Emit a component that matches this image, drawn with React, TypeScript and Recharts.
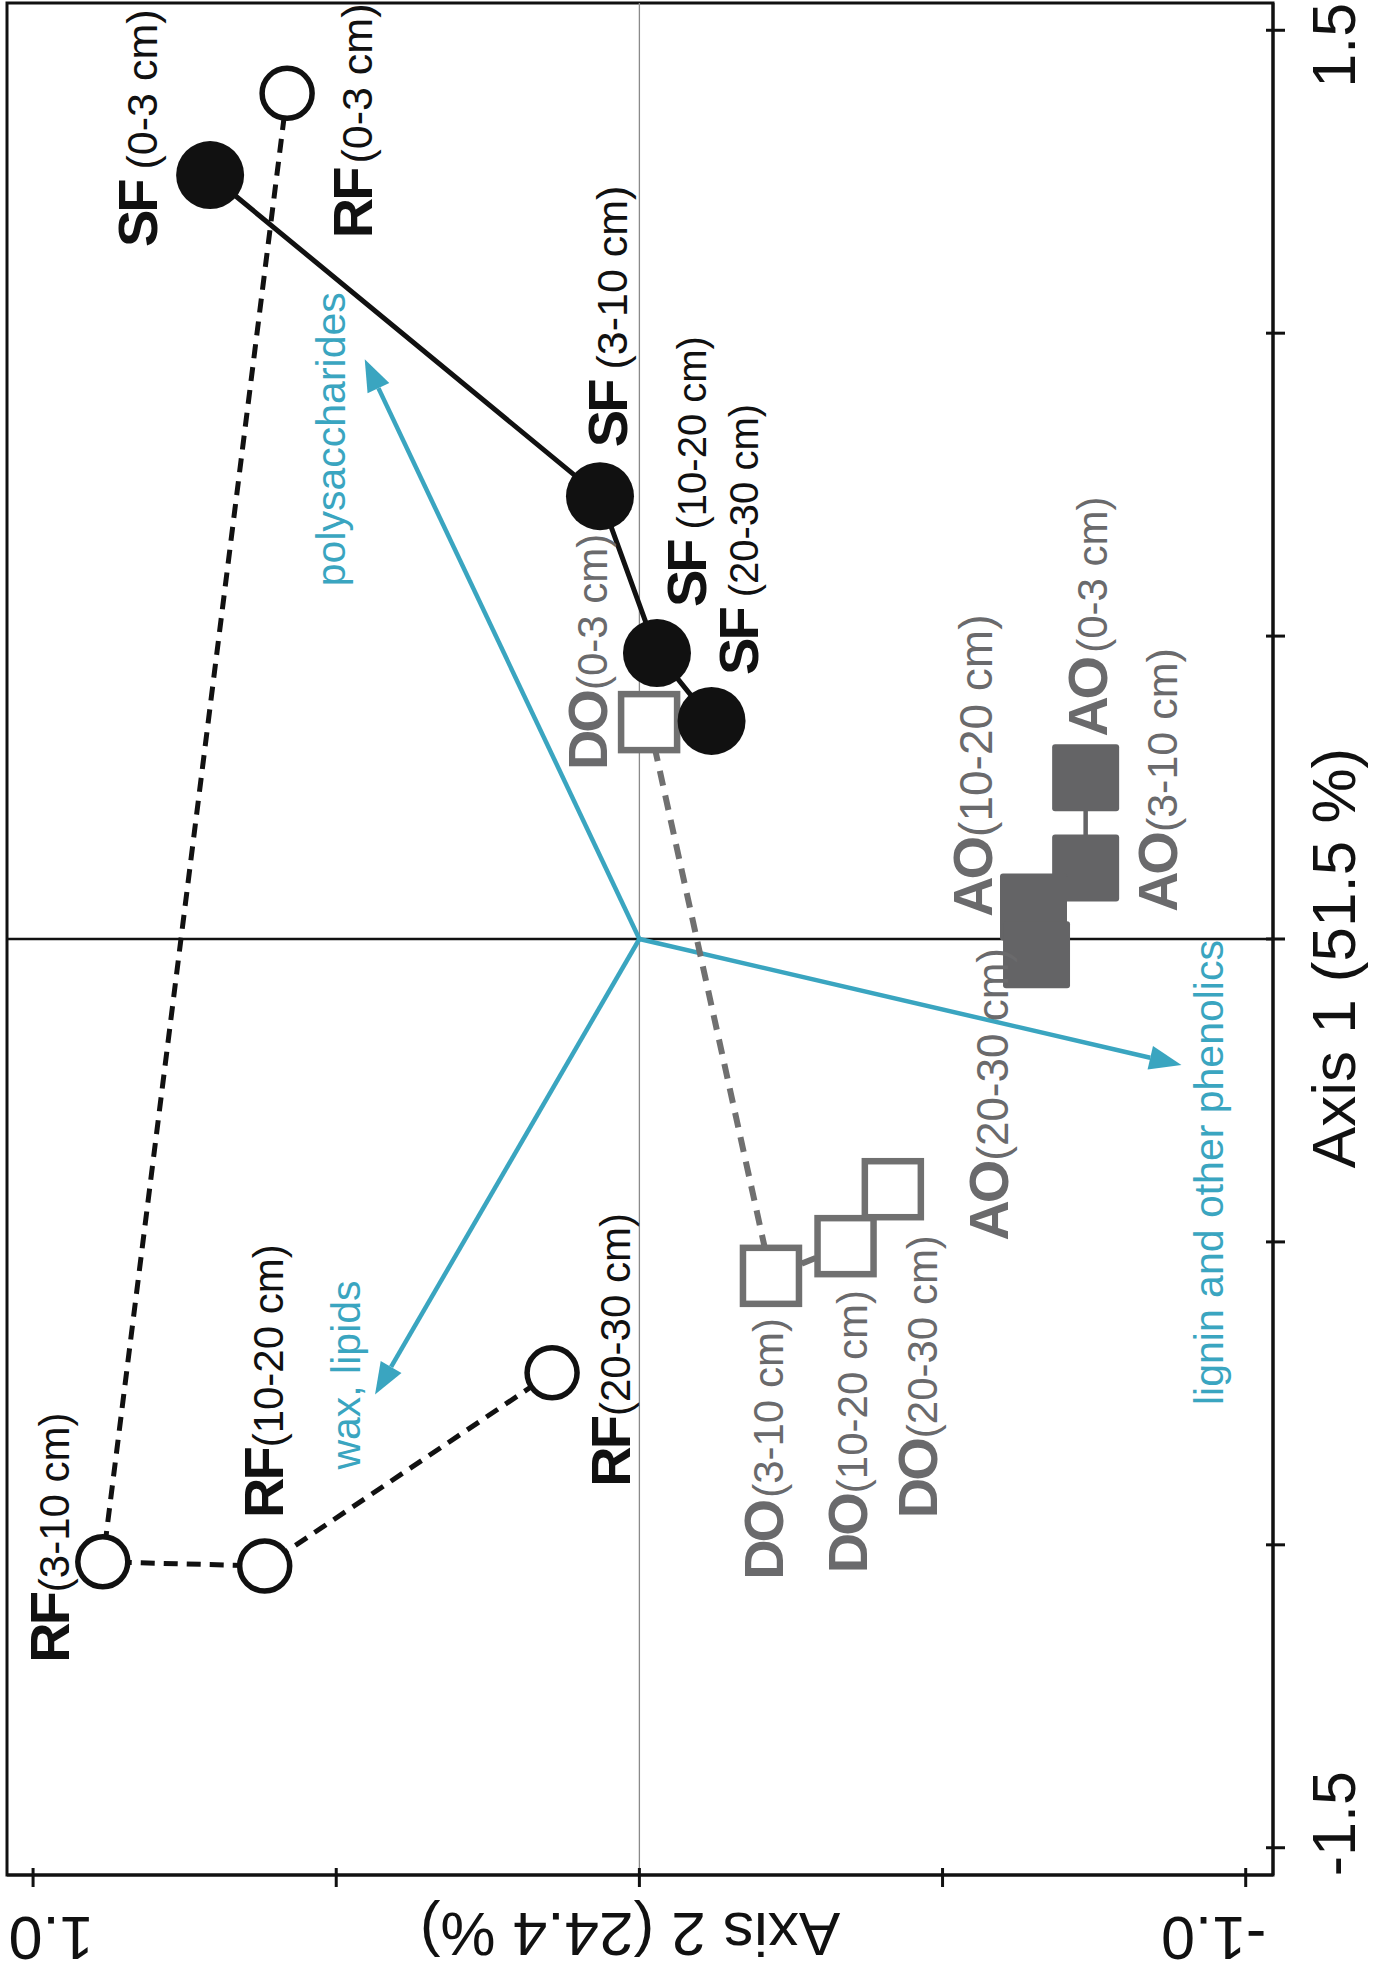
import React from 'react';
import {
  ScatterChart,
  Scatter,
  XAxis,
  YAxis,
  ReferenceLine,
  ReferenceArea,
  Label,
} from 'recharts';

// soil depths, same order for every site
const depths = ['0-3 cm', '3-10 cm', '10-20 cm', '20-30 cm'];

// ordination scores (Axis 1 vertical, Axis 2 horizontal)
const sfAxis1 = [1.261, 0.731, 0.472, 0.36];
const sfAxis2 = [0.708, 0.065, -0.029, -0.119];
const rfAxis1 = [1.396, -1.028, -1.035, -0.716];
const rfAxis2 = [0.581, 0.885, 0.618, 0.144];
const doAxis1 = [0.358, -0.556, -0.507, -0.413];
const doAxis2 = [-0.016, -0.217, -0.34, -0.418];
const aoAxis1 = [0.266, 0.117, 0.053, -0.026];
const aoAxis2 = [-0.736, -0.736, -0.65, -0.655];

// compound vectors
const vectorNames = ['polysaccharides', 'lignin and other phenolics', 'wax, lipids'];
const vectorAxis1 = [0.957, -0.208, -0.752];
const vectorAxis2 = [0.453, -0.894, 0.436];

const axis1Ticks = [-1.5, -1, -0.5, 0, 0.5, 1, 1.5];
const axis2Ticks = [-1, -0.5, 0, 0.5, 1];
const axis1Domain = [-1.545, 1.545];
const axis2Domain = [-1.045, 1.043];

const FONT = "'Liberation Sans', Arial, sans-serif";
const INK = '#111';
const GREY = '#6a6a6c';
const TEAL = '#3aa5c0';

// label placement relative to each marker: [dx, dy, gap, depth font size]
const labelOffsets: Record<string, number[][]> = {
  SF: [[-53, 72, 12, 43], [27, -49, 12, 43], [49, -46, 12, 40], [46, -46, 12, 40]],
  RF: [[85, 145, 6, 43], [-34, 101, 2, 42], [18, -48, 2, 42], [78, 114, 2, 42]],
  DO: [[-42, 48, 2, 42], [12, 304, 4, 42], [21, 327, 2, 42], [44, 329, 2, 42]],
  AO: [[21, -41, 6, 42], [91, 44, 2, 43], [-42, 10, 2, 46], [-29, 286, 2, 44]],
};
const vectorLabelOffsets = [[-20, 227], [42, 340], [-15, 75]];

const toPoints = (group: string, a1: number[], a2: number[]) =>
  a1.map((v, i) => ({ group, idx: i, depth: depths[i], a1: v, a2: a2[i] }));

const sfData = toPoints('SF', sfAxis1, sfAxis2);
const rfData = toPoints('RF', rfAxis1, rfAxis2);
const doData = toPoints('DO', doAxis1, doAxis2);
const aoData = toPoints('AO', aoAxis1, aoAxis2);
const allPoints = [...sfData, ...rfData, ...doData, ...aoData];

const SfDot = ({ cx, cy }: any) => <circle cx={cx} cy={cy} r={34} fill={INK} />;
const RfDot = ({ cx, cy }: any) => (
  <circle cx={cx} cy={cy} r={25} fill="#fff" stroke={INK} strokeWidth={5.5} />
);
const DoDot = ({ cx, cy }: any) => (
  <rect x={cx - 28} y={cy - 28} width={56} height={56} fill="#fff" stroke="#707070" strokeWidth={6.5} />
);
const AoDot = ({ cx, cy }: any) => (
  <rect x={cx - 33.5} y={cy - 33.5} width={67} height={67} rx={3} fill="#646466" />
);

const PointLabel = ({ cx, cy, payload }: any) => {
  if (cx == null || !payload) return <g />;
  const [dx, dy, gap, size] = labelOffsets[payload.group][payload.idx];
  const color = payload.group === 'SF' || payload.group === 'RF' ? INK : GREY;
  return (
    <text transform={`translate(${cx + dx},${cy + dy}) rotate(-90)`} fill={color} fontFamily={FONT}>
      <tspan fontSize={56} fontWeight="bold" letterSpacing={-3}>{payload.group}</tspan>
      <tspan fontSize={size} dx={gap}>({payload.depth})</tspan>
    </text>
  );
};

const Arrow = (props: any) => {
  const { x1, y1, x2, y2, idx } = props;
  if (x1 == null) return <g />;
  const ang = Math.atan2(y2 - y1, x2 - x1);
  const len = 32;
  const half = 12;
  const bx = x2 - len * Math.cos(ang);
  const by = y2 - len * Math.sin(ang);
  const px = -Math.sin(ang) * half;
  const py = Math.cos(ang) * half;
  const [ldx, ldy] = vectorLabelOffsets[idx];
  return (
    <g>
      <line x1={x1} y1={y1} x2={bx} y2={by} stroke={TEAL} strokeWidth={4.5} />
      <polygon points={`${x2},${y2} ${bx + px},${by + py} ${bx - px},${by - py}`} fill={TEAL} />
      <text
        transform={`translate(${x2 + ldx},${y2 + ldy}) rotate(-90)`}
        fontSize={41}
        fill={TEAL}
        fontFamily={FONT}
      >
        {vectorNames[idx]}
      </text>
    </g>
  );
};

const BottomTick = ({ x, y, payload }: any) => {
  const v = payload.value;
  const labelled = Math.abs(Math.abs(v) - 1) < 1e-6;
  const shift = v > 0 ? 18 : -32;
  return (
    <g>
      <line x1={x} y1={y - 7} x2={x} y2={y + 12} stroke={INK} strokeWidth={3} />
      {labelled && (
        <text
          transform={`translate(${x + shift},${y + 42}) rotate(180)`}
          textAnchor="middle"
          fontSize={61}
          fill={INK}
          fontFamily={FONT}
        >
          {v.toFixed(1)}
        </text>
      )}
    </g>
  );
};

const RightTick = ({ x, y, payload }: any) => {
  const v = payload.value;
  const labelled = Math.abs(Math.abs(v) - 1.5) < 1e-6;
  const shift = v > 0 ? 15 : -24;
  return (
    <g>
      <line x1={x - 7} y1={y} x2={x + 12} y2={y} stroke={INK} strokeWidth={3} />
      {labelled && (
        <text
          transform={`translate(${x + 82},${y + shift}) rotate(-90)`}
          textAnchor="middle"
          fontSize={61}
          fill={INK}
          fontFamily={FONT}
        >
          {v.toFixed(1)}
        </text>
      )}
    </g>
  );
};

const BottomTitle = ({ viewBox }: any) => {
  const vb = viewBox || { x: 7, y: 1875, width: 1266, height: 101 };
  return (
    <text
      transform={`translate(${vb.x + vb.width / 2 - 10},${vb.y + 38}) rotate(180)`}
      textAnchor="middle"
      fontSize={62}
      fill={INK}
      fontFamily={FONT}
    >
      Axis 2 (24.4 %)
    </text>
  );
};

const RightTitle = ({ viewBox }: any) => {
  const vb = viewBox || { x: 1273, y: 3, width: 104, height: 1872 };
  return (
    <text
      transform={`translate(${vb.x + 82},${vb.y + vb.height / 2 + 19}) rotate(-90)`}
      textAnchor="middle"
      fontSize={62}
      fill={INK}
      fontFamily={FONT}
    >
      Axis 1 (51.5 %)
    </text>
  );
};

export default function App() {
  return (
    <div style={{ position: 'absolute', left: 0, top: 0, width: 1377, height: 1976, background: '#fff' }}>
      <ScatterChart width={1377} height={1976} margin={{ top: 3, right: 0, bottom: 0, left: 7 }}>
        <XAxis
          type="number"
          dataKey="a2"
          domain={axis2Domain}
          reversed
          allowDataOverflow
          ticks={axis2Ticks}
          interval={0}
          height={101}
          axisLine={{ stroke: INK, strokeWidth: 3 }}
          tickLine={false}
          tickSize={0}
          tickMargin={0}
          tick={(p: any) => <BottomTick {...p} />}
        >
          <Label content={BottomTitle} />
        </XAxis>
        <YAxis
          type="number"
          dataKey="a1"
          orientation="right"
          domain={axis1Domain}
          allowDataOverflow
          ticks={axis1Ticks}
          interval={0}
          width={104}
          axisLine={{ stroke: INK, strokeWidth: 3 }}
          tickLine={false}
          tickSize={0}
          tickMargin={0}
          tick={(p: any) => <RightTick {...p} />}
        >
          <Label content={RightTitle} />
        </YAxis>

        <ReferenceArea
          x1={axis2Domain[0]}
          x2={axis2Domain[1]}
          y1={axis1Domain[0]}
          y2={axis1Domain[1]}
          fill="none"
          fillOpacity={0}
          stroke={INK}
          strokeWidth={3}
          ifOverflow="visible"
        />
        <ReferenceLine x={0} stroke="#8a8a8a" strokeWidth={1.3} />
        <ReferenceLine y={0} stroke={INK} strokeWidth={2.5} />

        {vectorNames.map((name, i) => (
          <ReferenceLine
            key={name}
            segment={[
              { x: 0, y: 0 },
              { x: vectorAxis2[i], y: vectorAxis1[i] },
            ]}
            stroke={TEAL}
            ifOverflow="visible"
            shape={(p: any) => <Arrow {...p} idx={i} />}
          />
        ))}

        <Scatter
          data={rfData}
          isAnimationActive={false}
          line={{ stroke: INK, strokeWidth: 5, strokeDasharray: '14 9' }}
          lineType="joint"
          shape={RfDot}
        />
        <Scatter
          data={doData}
          isAnimationActive={false}
          line={{ stroke: '#707070', strokeWidth: 6, strokeDasharray: '15 10' }}
          lineType="joint"
          shape={DoDot}
        />
        <Scatter
          data={aoData}
          isAnimationActive={false}
          line={{ stroke: '#646466', strokeWidth: 4.5 }}
          lineType="joint"
          shape={AoDot}
        />
        <Scatter
          data={sfData}
          isAnimationActive={false}
          line={{ stroke: INK, strokeWidth: 5 }}
          lineType="joint"
          shape={SfDot}
        />
        <Scatter data={allPoints} isAnimationActive={false} shape={PointLabel} />
      </ScatterChart>
    </div>
  );
}
